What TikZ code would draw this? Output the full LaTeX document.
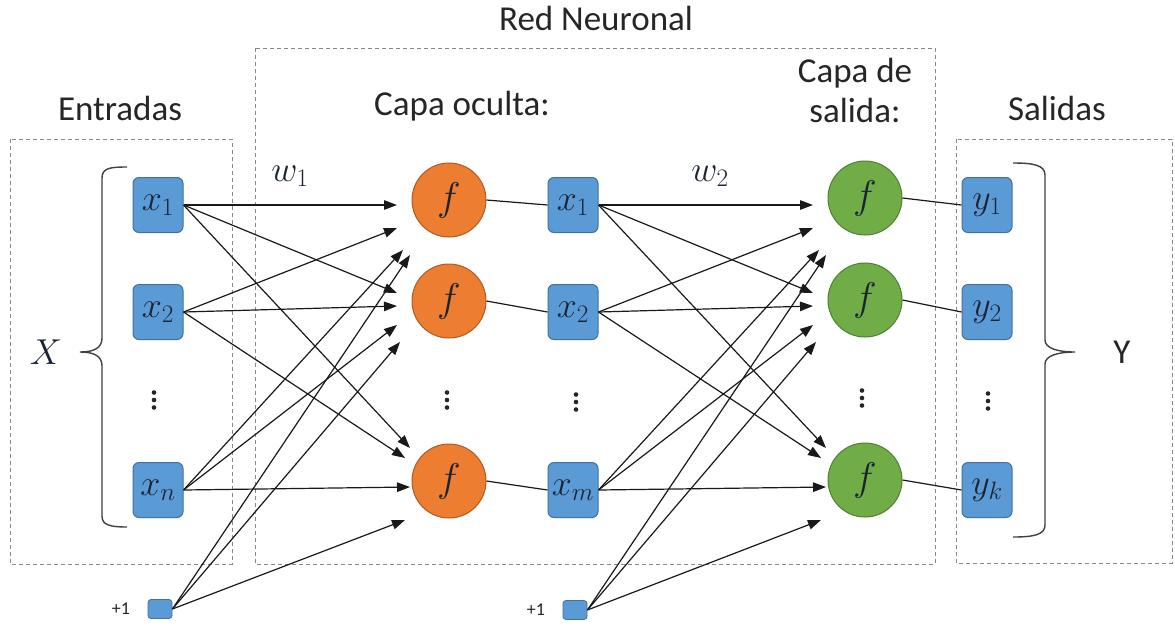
\RequirePackage{fix-cm}
\documentclass[tikz,border=0pt]{standalone}
\usepackage{fontspec}
\setmainfont{Carlito}
\usetikzlibrary{arrows.meta}

\definecolor{boxblue}{HTML}{5B9BD5}
\definecolor{boxblueline}{HTML}{41719C}
\definecolor{hidorange}{HTML}{ED7D31}
\definecolor{hidorangeline}{HTML}{AE5A21}
\definecolor{outgreen}{HTML}{70AD47}
\definecolor{outgreenline}{HTML}{507E32}
\definecolor{framegray}{HTML}{7F8A96}
\definecolor{glyph}{HTML}{1C2433}
\definecolor{bracegray}{HTML}{404040}

\tikzset{
  unit/.style={draw=boxblueline, fill=boxblue, rounded corners=6pt,
    minimum width=50pt, minimum height=55pt, inner sep=0pt, line width=1pt,
    font=\fontsize{36}{42}\selectfont, text=glyph},
  biasbox/.style={draw=boxblueline, fill=boxblue, rounded corners=3pt,
    minimum width=24pt, minimum height=19pt, inner sep=0pt, line width=0.8pt},
  neuron/.style={circle, minimum size=74pt, inner sep=0pt, line width=1pt,
    font=\fontsize{40}{46}\selectfont, text=glyph},
  hidden/.style={neuron, fill=hidorange, draw=hidorangeline},
  outn/.style={neuron, fill=outgreen, draw=outgreenline},
  framebox/.style={draw=framegray, dash pattern=on 4pt off 3pt, line width=0.9pt},
  title/.style={font=\fontsize{35}{40}\selectfont, text=black!85, align=center},
  smalllabel/.style={font=\fontsize{18}{20}\selectfont, text=black!85},
  mathlabel/.style={font=\fontsize{36}{42}\selectfont, text=glyph},
  wire/.style={line width=1.2pt, draw=black!90},
  feed/.style={wire, -{Triangle[length=13pt,width=9.5pt]}},
  brace/.style={line width=1.4pt, draw=bracegray},
}

% three stacked dots centred on the given point x,y
\newcommand\dotstack[1]{%
  \foreach \k in {-1,0,1} \fill[black!85] ([yshift=\k*7.5pt]#1) circle (2.3pt);}

\begin{document}
\begin{tikzpicture}[x=1pt, y=-1pt]
\useasboundingbox (0,0) rectangle (1175,625);
\fill[white] (0,0) rectangle (1175,625);

% dashed frames
\draw[framebox] (10,139) rectangle (232,564);
\draw[framebox] (255,48) rectangle (935,564);
\draw[framebox] (956,139) rectangle (1172,563);

% titles
\node[title] (tRed) at (596,18) {Red Neuronal};
\node[title] (tIn) at (120,108) {Entradas};
\node[title] (tHid) at (462,106) {Capa oculta:};
\node[title] (tOut) at (855,90) {Capa de\\salida:};
\node[title] (tSal) at (1057,108) {Salidas};

% input column
\node[unit] (A1) at (158,205) {$x_1$};
\node[unit] (A2) at (158,312) {$x_2$};
\node[unit] (A3) at (158,490) {$x_n$};
\node[biasbox] (Ab) at (160,609) {};
\node[smalllabel, anchor=east] (Abl) at ([xshift=-14pt]Ab.west) {+1};

% hidden layer
\node[hidden] (H1) at (449,200) {$f$};
\node[hidden] (H2) at (449,301) {$f$};
\node[hidden] (H3) at (449,481) {$f$};

% hidden outputs
\node[unit] (B1) at (573,205) {$x_1$};
\node[unit] (B2) at (573,312) {$x_2$};
\node[unit] (B3) at (573,490) {$x_m$};
\node[biasbox] (Bb) at (575,610) {};
\node[smalllabel, anchor=east] (Bbl) at ([xshift=-14pt]Bb.west) {+1};

% output layer
\node[outn] (O1) at (865,198) {$f$};
\node[outn] (O2) at (865,300) {$f$};
\node[outn] (O3) at (865,480) {$f$};

% network outputs
\node[unit] (Y1) at (987,205) {$y_1$};
\node[unit] (Y2) at (987,312) {$y_2$};
\node[unit] (Y3) at (987,490) {$y_k$};

% weight labels
\node[mathlabel] (w1) at (290,176) {$w_1$};
\node[mathlabel] (w2) at (710,176) {$w_2$};

% vertical ellipses
\dotstack{154,400}
\dotstack{447,400}
\dotstack{576,402}
\dotstack{862,398}
\dotstack{988,401}

% arrow tips in front of each neuron (same pattern for both layers)
\foreach \L/\s in {A/0, B/416} {
  \foreach \j/\i/\x/\y in {1/1/397/205, 1/2/397/228, 1/3/403/250, 1/b/410/255,
                           2/1/397/293, 2/2/397/306, 2/3/397/325, 2/b/400/342,
                           3/1/410/448, 3/2/405/458, 3/3/410/487, 3/b/405/520}
    \coordinate (\L tip\j\i) at (\x+\s,\y);
}

% fully connected weights
\foreach \L in {A,B} {
  \foreach \j in {1,2,3} {
    \foreach \i in {1,2,3}
      \draw[feed] (\L\i.east) -- (\L tip\j\i);
    \draw[feed] (\L b.east) -- (\L tip\j b);
  }
}

% neuron outputs
\draw[wire] (H1.east) -- (B1.west);
\draw[wire] (H2.east) -- (B2.west);
\draw[wire] (H3.east) -- (B3.west);
\draw[wire] (O1.east) -- (Y1.west);
\draw[wire] (O2.east) -- (Y2.west);
\draw[wire] (O3.east) -- (Y3.west);

% input brace
\draw[brace] (127,167) .. controls (110,167) and (102,168) .. (102,178)
  -- (102,338) .. controls (102,348) and (94,352) .. (80,352)
  .. controls (94,352) and (102,356) .. (102,366)
  -- (102,516) .. controls (102,525) and (110,527) .. (127,527);
\node[mathlabel] (X) at (46,352) {$X$};

% output brace
\draw[brace] (1013,163) .. controls (1033,163) and (1045,165) .. (1045,175)
  -- (1045,340) .. controls (1045,348) and (1057,352) .. (1075,352)
  .. controls (1057,352) and (1045,356) .. (1045,364)
  -- (1045,525) .. controls (1045,535) and (1033,537) .. (1013,537);
\node[title] (Y) at (1122,352) {Y};
\end{tikzpicture}
\end{document}
